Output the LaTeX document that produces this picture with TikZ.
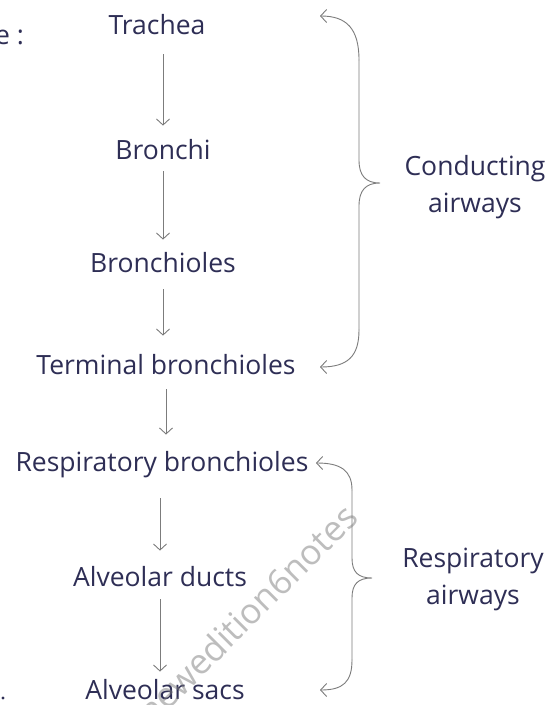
\documentclass[tikz,border=0pt]{standalone}
\usepackage{fontspec}
\setmainfont{Open Sans}
\usetikzlibrary{arrows.meta}
\definecolor{ink}{HTML}{2E2E55}
\definecolor{pencil}{HTML}{7C7C7C}
\begin{document}
\begin{tikzpicture}[x=1pt,y=-1pt,
  lbl/.style={text=ink,font=\fontsize{26.5}{30}\selectfont,inner sep=0pt},
  side/.style={text=ink,font=\fontsize{26.5}{37}\selectfont,inner sep=0pt,align=center},
  flow/.style={draw=pencil,line width=0.9pt,-{Straight Barb[length=6pt,width=13pt]}},
  brace/.style={draw=pencil,line width=0.9pt,line cap=round},
  tip/.style={-{Straight Barb[length=6pt,width=13pt]}}]
\useasboundingbox[fill=white] (0,0) rectangle (549,705);

% heading fragment at the left edge
\node[lbl,anchor=west] (head) at (-5,37) {e :};

% chain of airways
\node[lbl] (T)  at (157,25)  {Trachea};
\node[lbl] (B)  at (163,150) {Bronchi};
\node[lbl] (Bs) at (163,263) {Bronchioles};
\node[lbl] (TB) at (166,365) {Terminal bronchioles};
\node[lbl] (RB) at (162,465) {Respiratory bronchioles};
\node[lbl] (AD) at (160,577) {Alveolar ducts};
\node[lbl] (AS) at (165,690) {Alveolar sacs};

\draw[flow,shorten <=19pt,shorten >=14pt] (T.south -| B) -- (B.north);
\draw[flow,shorten <=11pt,shorten >=13pt] (B.south) -- (Bs.north);
\draw[flow,shorten <=16pt,shorten >=19pt] (Bs.south) -- (Bs.south |- TB.north);
\draw[flow,shorten <=14pt,shorten >=17pt] (TB.south) -- (TB.south |- RB.north);
\draw[flow,shorten <=20pt,shorten >=16pt] (RB.south -| AD) -- (AD.north);
\draw[flow,shorten <=12pt,shorten >=8pt] (AD.south) -- (AD.south |- AS.north);

% brace grouping the conducting zone
\coordinate (c1) at (320,16);
\coordinate (c2) at (380,183);
\coordinate (c3) at (320,367);
\draw[brace,tip] (359,60) .. controls (359,28) and (346,16) .. (c1);
\draw[brace] (359,60) -- (359,160) .. controls (359,176) and (366,183) .. (c2)
  .. controls (366,183) and (359,190) .. (359,206) -- (359,330);
\draw[brace,tip] (359,330) .. controls (359,356) and (348,367) .. (c3);
\node[side] (cond) at (475,187) {Conducting\\airways};

% brace grouping the respiratory zone
\coordinate (r1) at (316,463);
\coordinate (r2) at (372,578);
\coordinate (r3) at (320,690);
\draw[brace,tip] (352,490) .. controls (352,470) and (340,463) .. (r1);
\draw[brace] (352,490) -- (352,558) .. controls (352,572) and (358,578) .. (r2)
  .. controls (358,578) and (352,584) .. (352,598) -- (352,660);
\draw[brace,tip] (352,660) .. controls (352,682) and (343,690) .. (r3);
\node[side] (resp) at (473,579) {Respiratory\\airways};

% stray dot at the lower left
\fill[ink] (3,698) circle (1.6pt);

% publisher watermark
\begin{scope}
\clip (0,0) rectangle (549,705);
\node[text=pencil,opacity=0.5,font=\fontsize{35}{35}\selectfont,rotate=45,inner sep=0pt]
  (wm) at (247,614) {newedition6notes};
\end{scope}
\end{tikzpicture}
\end{document}
